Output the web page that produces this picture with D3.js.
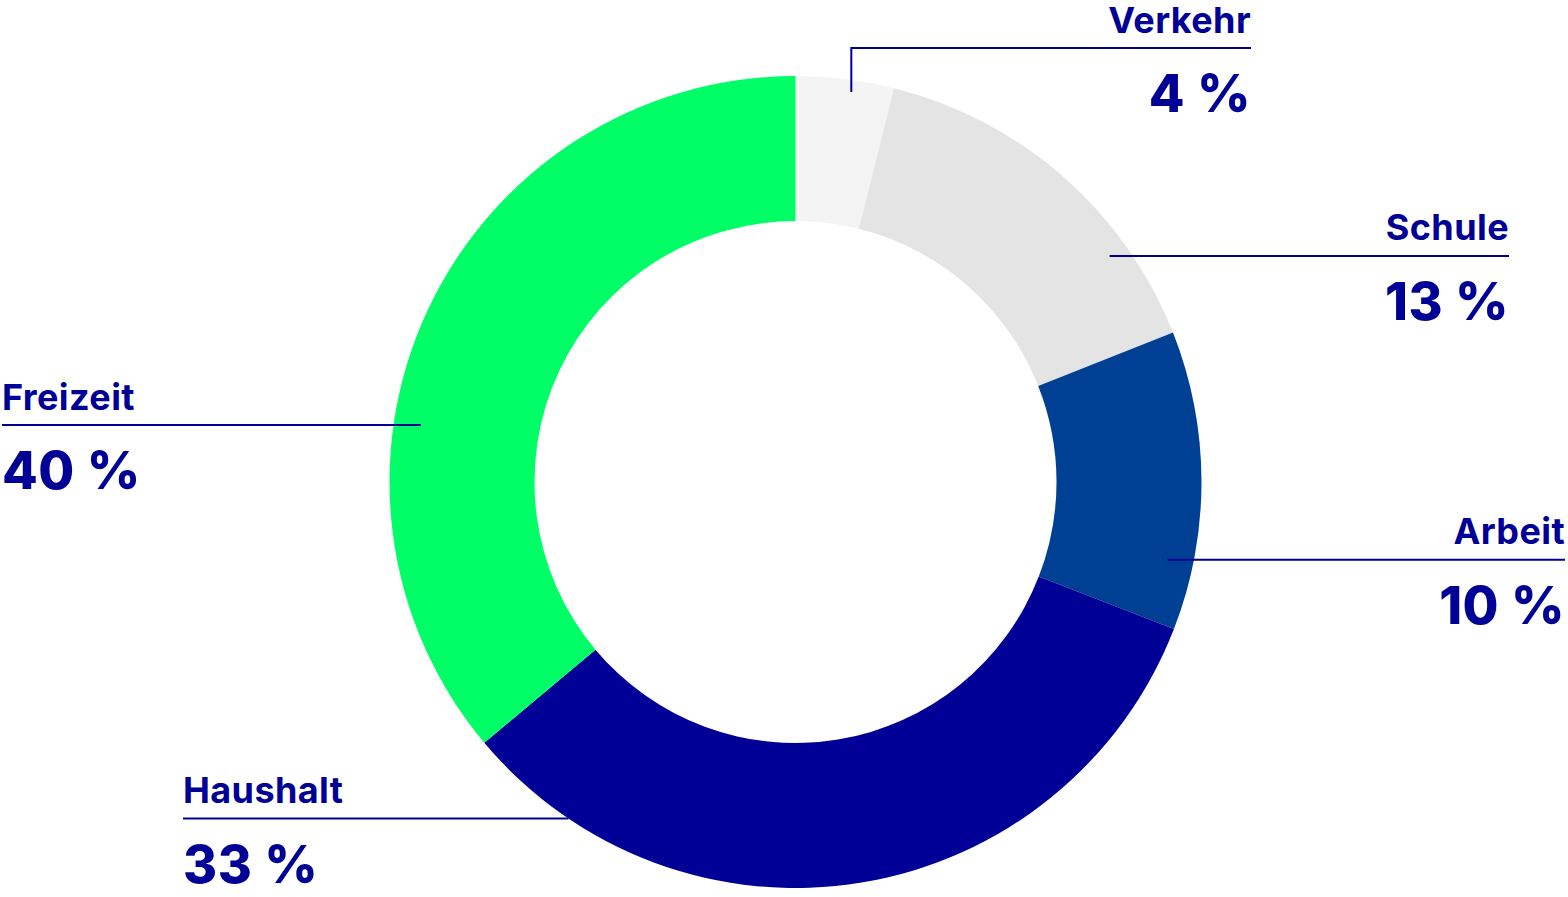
<!DOCTYPE html>
<html>
<head>
<meta charset="utf-8">
<script src="https://cdn.jsdelivr.net/npm/d3@7"></script>
<style>
  body { margin: 0; background: #fff; }
  text { font-family: Inter, "Open Sans", sans-serif; fill: #000096; }
  .name { font-size: 36px; font-weight: 700; letter-spacing: 0.4px; }
  .value { font-size: 52px; font-weight: 800; letter-spacing: 0.5px; }
</style>
</head>
<body>
<div id="chart"></div>
<script>
// categories, clockwise from 12 o'clock
var categories = ['Verkehr', 'Schule', 'Arbeit', 'Haushalt', 'Freizeit'];
// slice sizes as drawn in the picture (share in %)
var shares = [3.9, 15.1, 11.9, 33, 36.1];
// printed labels
var valueLabels = ['4 %', '13 %', '10 %', '33 %', '40 %'];
var colors = ['#f4f4f4', '#e4e4e4', '#004094', '#000096', '#00ff66'];

var w = 1568, h = 897;
var cx = 795.5, cy = 482;
var rOuter = 406, rInner = 261;

// where each leader line starts (fraction along the slice, radius) and where the text sits
var layout = [
  {f: 0.58, r: 394, side: 'right', edge: 1251, elbowY: 48},
  {f: 0.74, r: 387, side: 'right', edge: 1509},
  {f: 0.78, r: 380, side: 'right', edge: 1565},
  {f: 0.865, r: 406, side: 'left', edge: 183},
  {f: 0.374, r: 379, side: 'left', edge: 2}
];

var svg = d3.select('#chart')
  .append('svg')
  .attr('width', w)
  .attr('height', h);

var pie = d3.pie().sort(null).value(function(d){ return d; });
var arcs = pie(shares);

var arc = d3.arc().innerRadius(rInner).outerRadius(rOuter);

var g = svg.append('g').attr('transform', 'translate(' + cx + ',' + cy + ')');

g.selectAll('path')
  .data(arcs)
  .enter()
  .append('path')
  .attr('d', arc)
  .style('fill', function(d, i){ return colors[i]; });

// leader lines + labels
arcs.forEach(function(d, i){
  var L = layout[i];
  var a = d.startAngle + L.f * (d.endAngle - d.startAngle);
  var ax = cx + L.r * Math.sin(a);
  var ay = cy - L.r * Math.cos(a);
  var lineY = L.elbowY != null ? L.elbowY : ay;

  var pts = [[ax, ay], [ax, lineY], [L.edge, lineY]];
  svg.append('path')
    .attr('d', d3.line()(pts))
    .attr('fill', 'none')
    .attr('stroke', '#000096')
    .attr('stroke-width', 2);

  var anchor = L.side === 'right' ? 'end' : 'start';
  svg.append('text')
    .attr('class', 'name')
    .attr('x', L.edge)
    .attr('y', lineY - 15.5)
    .attr('text-anchor', anchor)
    .text(categories[i]);

  svg.append('text')
    .attr('class', 'value')
    .attr('x', L.edge)
    .attr('y', lineY + 64)
    .attr('text-anchor', anchor)
    .text(valueLabels[i]);
});
</script>
</body>
</html>
